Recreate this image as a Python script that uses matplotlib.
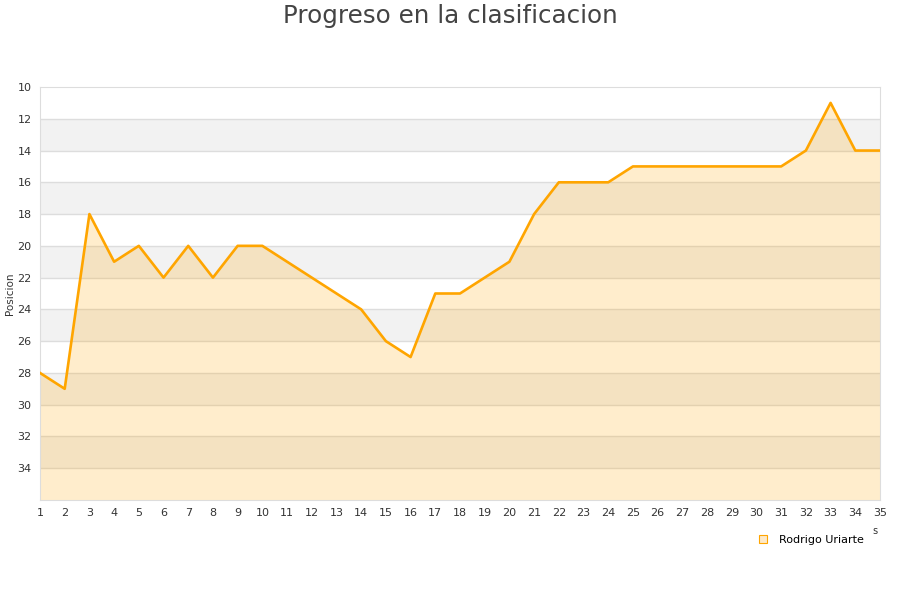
import matplotlib
matplotlib.use("Agg")
import matplotlib.pyplot as plt
from matplotlib.lines import Line2D

jornadas = list(range(1, 36))
posiciones = [28, 29, 18, 21, 20, 22, 20, 22, 20, 20, 21, 22, 23, 24, 26, 27, 23, 23, 22, 21,
              18, 16, 16, 16, 15, 15, 15, 15, 15, 15, 15, 14, 11, 14, 14]
y_ticks = [10, 12, 14, 16, 18, 20, 22, 24, 26, 28, 30, 32, 34]
jugador = "Rodrigo Uriarte"
titulo = "Progreso en la clasificacion"

fig = plt.figure(figsize=(9, 6), dpi=100)
ax = fig.add_axes([40/900, 100/600, 840/900, 413/600])

ymin, ymax = 10, 36
for b in range(12, 36, 4):
    ax.axhspan(b, b + 2, color="#f2f2f2", zorder=0, lw=0)
for t in y_ticks[1:]:
    ax.axhline(t, color="#dddddd", lw=1, zorder=1)

ax.fill_between(jornadas, posiciones, ymax, color="#ffa500", alpha=0.2, lw=0, zorder=2)
ax.plot(jornadas, posiciones, color="#ffa500", lw=1.9, zorder=3)

ax.set_xlim(1, 35)
ax.set_ylim(ymax, ymin)
ax.set_xticks(jornadas)
ax.set_yticks(y_ticks)
ax.tick_params(axis="both", length=0, labelsize=8, colors="#333333", pad=6)
for s in ax.spines.values():
    s.set_color("#dddddd")
ax.set_ylabel("Posicion", fontsize=7.5, color="#333333", labelpad=2)

fig.text(0.5, 1 - 16/600, titulo, ha="center", va="center", fontsize=17.7, color="#444444")

handle = Line2D([], [], marker="s", linestyle="none", markersize=6,
                markerfacecolor="#fde9c8", markeredgecolor="#ffa500", markeredgewidth=0.8)
fig.legend([handle], [jugador], loc="center", bbox_to_anchor=(808/900, 1 - 540/600),
           frameon=False, fontsize=8, handletextpad=0.4)
fig.text(875/900, 1 - 531/600, "s", ha="center", va="center", fontsize=7, color="#333333")

fig.savefig("out.png", dpi=100)
